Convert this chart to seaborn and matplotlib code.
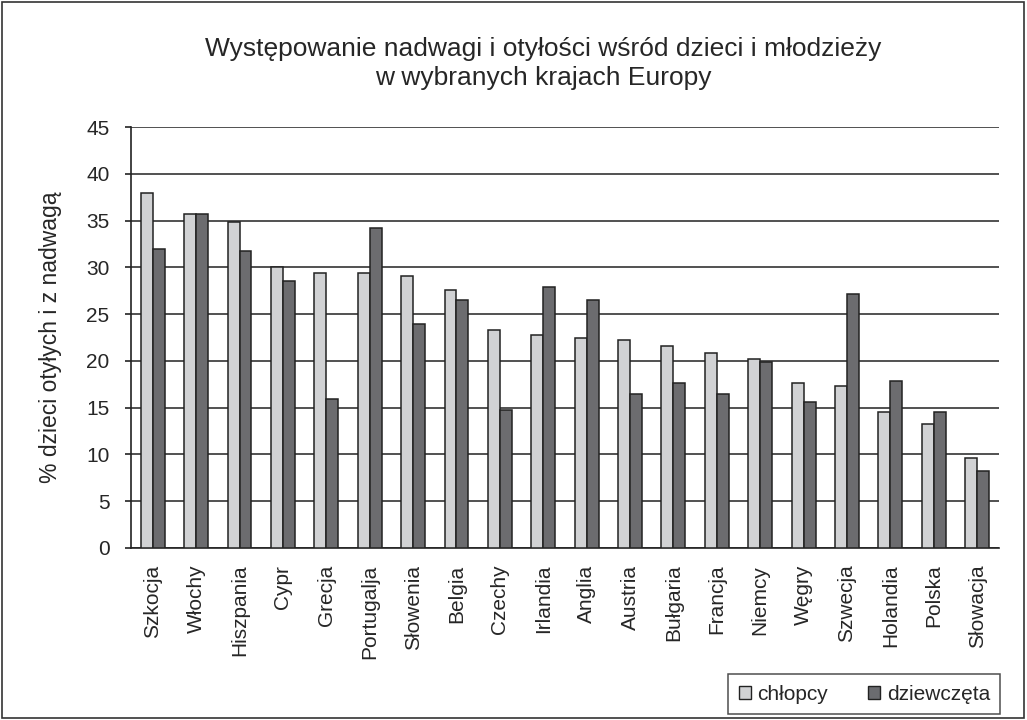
# bar chart: overweight and obesity among children in selected European countries

import matplotlib.pyplot as plt
from matplotlib.patches import Patch, Rectangle
import seaborn as sns
import pandas as pd

kraje = ["Szkocja", "Włochy", "Hiszpania", "Cypr", "Grecja", "Portugalja",
         "Słowenia", "Belgia", "Czechy", "Irlandia", "Anglia", "Austria",
         "Bułgaria", "Francja", "Niemcy", "Węgry", "Szwecja", "Holandia",
         "Polska", "Słowacja"]
chlopcy = [37.9, 35.7, 34.8, 30.0, 29.4, 29.4, 29.1, 27.6, 23.3, 22.8,
           22.5, 22.2, 21.6, 20.8, 20.2, 17.6, 17.3, 14.5, 13.3, 9.6]
dziewczeta = [32.0, 35.7, 31.7, 28.5, 15.9, 34.2, 23.9, 26.5, 14.8, 27.9,
              26.5, 16.5, 17.6, 16.5, 19.9, 15.6, 27.1, 17.9, 14.5, 8.2]
serie = ["chłopcy", "dziewczęta"]
kolory = ["#d1d2d4", "#6b6c70"]

df = pd.DataFrame({
    "kraj": kraje * 2,
    "wartosc": chlopcy + dziewczeta,
    "plec": [serie[0]] * len(kraje) + [serie[1]] * len(kraje),
})

sns.set_style("white")
plt.rcParams["font.family"] = ["Liberation Sans", "DejaVu Sans"]

fig = plt.figure(figsize=(10.27, 7.2), dpi=100)
ax = fig.add_axes([0.1276, 0.2389, 0.845, 0.5847])

sns.barplot(data=df, x="kraj", y="wartosc", hue="plec", palette=kolory,
            order=kraje, hue_order=serie, width=0.55, gap=0,
            edgecolor="#222222", linewidth=1.1, ax=ax, legend=False, zorder=3)

ax.set_ylim(0, 45)
ax.set_xlim(-0.5, len(kraje) - 0.5)
ax.set_yticks(range(0, 46, 5))
ax.yaxis.grid(True, color="#222222", linewidth=1.1, zorder=0)
ax.set_axisbelow(True)
for s in ["top", "right"]:
    ax.spines[s].set_visible(False)
for s in ["left", "bottom"]:
    ax.spines[s].set_color("#222222")
    ax.spines[s].set_linewidth(1.2)

# ticks between categories on x
ax.set_xticks([i for i in range(len(kraje))])
ax.set_xticklabels(kraje, rotation=90, fontsize=15)
ax.set_xticks([i - 0.5 for i in range(len(kraje) + 1)], minor=True)
ax.tick_params(axis="x", which="major", length=0, pad=12)
ax.tick_params(axis="x", which="minor", length=5, width=1.2, color="#222222", direction="out")
ax.tick_params(axis="y", length=4.5, width=1.2, color="#222222", direction="out",
               labelsize=15, left=True, pad=11)
ax.set_xlabel("")
ax.set_ylabel("% dzieci otyłych i z nadwagą", fontsize=16.5)
ax.yaxis.set_label_coords(-0.079, 0.5)

fig.text(0.529, 0.912, "Występowanie nadwagi i otyłości wśród dzieci i młodzieży\nw wybranych krajach Europy",
         ha="center", va="center", fontsize=19, linespacing=1.25)

uchwyty = [Patch(facecolor=k, edgecolor="#222222", label=s) for k, s in zip(kolory, serie)]
leg = fig.legend(handles=uchwyty, loc="lower right", bbox_to_anchor=(0.974, 0.008),
                 ncol=2, fontsize=15, frameon=True, fancybox=False,
                 handlelength=0.6, handleheight=0.6, handletextpad=0.3,
                 columnspacing=1.9, borderpad=0.5, borderaxespad=0)
leg.get_frame().set_edgecolor("#222222")
leg.get_frame().set_linewidth(1.1)

fig.add_artist(Rectangle((0.002, 0.003), 0.995, 0.994, transform=fig.transFigure,
                         fill=False, edgecolor="#333333", linewidth=1.2))

fig.savefig("out.png", dpi=100)
